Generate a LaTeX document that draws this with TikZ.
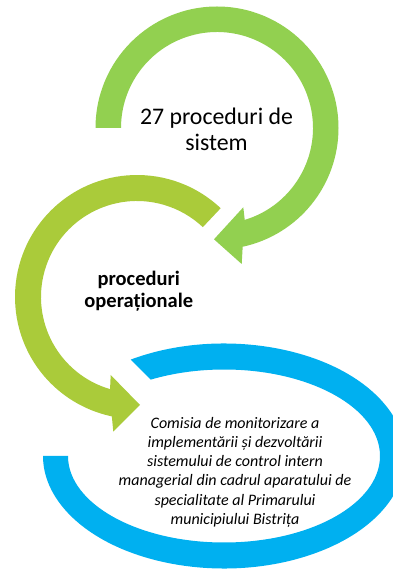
\documentclass[tikz,border=0pt]{standalone}
\usepackage{fontspec}
\setmainfont{Carlito}
\usetikzlibrary{calc}
\definecolor{arrowgreen}{HTML}{92D050}
\definecolor{arrowlime}{RGB}{170,203,58}
\definecolor{arrowblue}{HTML}{00B0F0}
\tikzset{
  ring/.style={draw=none},
  lbl/.style={align=center, inner sep=0pt, text=black}
}
\begin{document}
\begin{tikzpicture}[x=1pt,y=1pt]
\clip (0,0) rectangle (393,571);
\fill[white] (0,0) rectangle (393,571);
\coordinate (gc) at (217,443);
\coordinate (mc) at (137,274);
\coordinate (bc) at (224,115);
% blue ring
\fill[arrowblue] ($(bc)+(121:181pt and 112.5pt)$)
  arc[start angle=121, end angle=-180, x radius=181pt, y radius=112.5pt]
  -- ($(bc)+(180:156pt and 86.5pt)$)
  arc[start angle=-180, end angle=118, x radius=156pt, y radius=86.5pt]
  -- cycle;
% middle arrow
\fill[arrowlime] ($(mc)+(46.7:122pt)$)
  arc[start angle=46.7, end angle=258.1, radius=122pt]
  -- (113.3,139.3) -- (140,166) -- (110.7,196)
  -- ($(mc)+(253.7:96pt)$)
  arc[start angle=253.7, end angle=46.7, radius=96pt]
  -- cycle;
% top arrow
\fill[arrowgreen] ($(gc)+(180:121.5pt)$)
  arc[start angle=180, end angle=-77.8, radius=121.5pt]
  -- (241.7,307) -- (214,331.7) -- (243.3,363.7)
  -- ($(gc)+(-73.2:96pt)$)
  arc[start angle=-73.2, end angle=180, radius=96pt]
  -- cycle;
\node[lbl, font=\fontsize{23.8}{26}\selectfont] (gtext) at (216.5,441.25) {27 proceduri de\\sistem};
\node[lbl, font=\fontsize{20.5}{22.7}\selectfont\bfseries] (mtext) at (138.8,279.7) {proceduri\\operaționale};
\node[lbl, font=\fontsize{16}{19.15}\selectfont\itshape] (btext) at (235,98.7) {Comisia de monitorizare a\\implementării și dezvoltării\\sistemului de control intern\\managerial din cadrul aparatului de\\specialitate al Primarului\\municipiului Bistrița};
\end{tikzpicture}
\end{document}
